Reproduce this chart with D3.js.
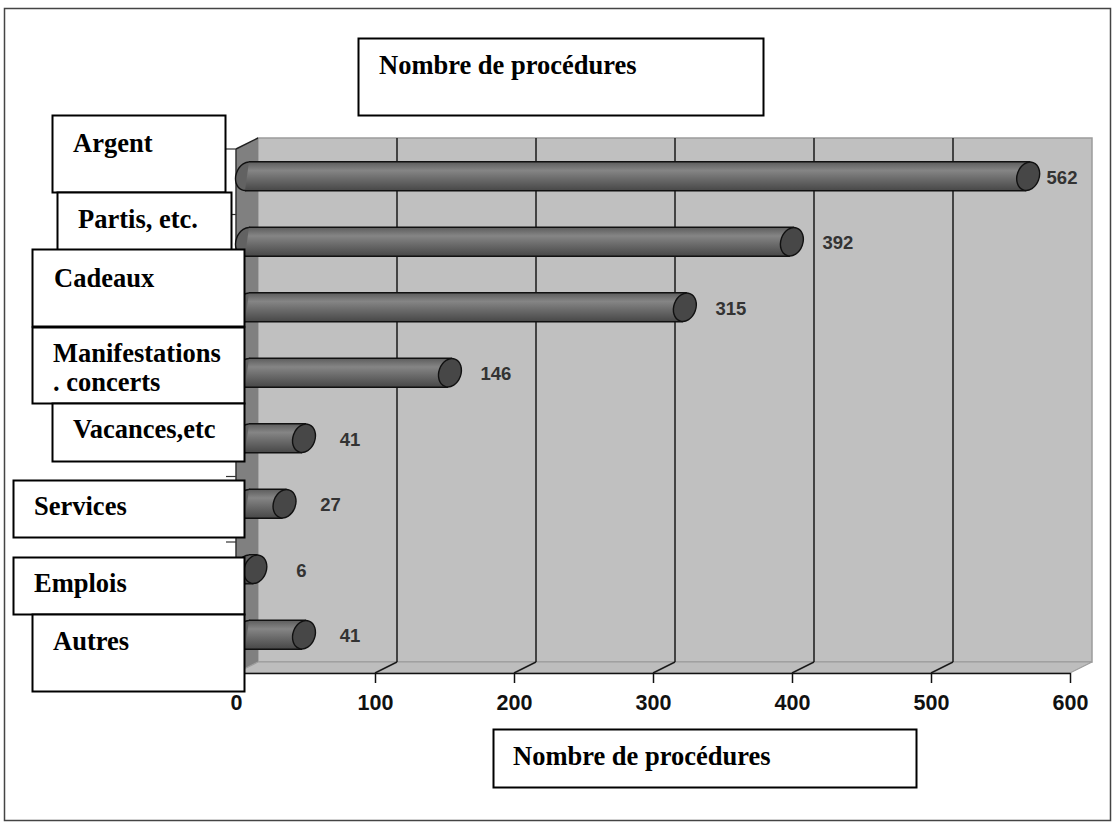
<!DOCTYPE html>
<html>
<head>
<meta charset="utf-8">
<script src="https://cdn.jsdelivr.net/npm/d3@7/dist/d3.min.js"></script>
<style>
  html, body { margin: 0; padding: 0; background: #fff; }
  svg { display: block; }
</style>
</head>
<body>
<svg id="chart" width="1118" height="828"></svg>
<script>
// Number of procedures by type of advantage
const categories = ["Argent", "Partis, etc.", "Cadeaux", "Manifestations, concerts",
                    "Vacances,etc", "Services", "Emplois", "Autres"];
const values = [562, 392, 315, 146, 41, 27, 6, 41];
const tickValues = [0, 100, 200, 300, 400, 500, 600];
const chartTitle = "Nombre de procédures";
const axisTitle = "Nombre de procédures";
// Text lines shown inside each category box
const categoryLines = [["Argent"], ["Partis, etc."], ["Cadeaux"], ["Manifestations", ". concerts"],
                       ["Vacances,etc"], ["Services"], ["Emplois"], ["Autres"]];
// Category box layout: [x, y, width, height, text inset x, first baseline offset]
const boxLayout = [
  [52, 115, 173, 77, 21, 37],
  [57, 192, 174, 68, 21, 36],
  [32, 249, 212, 77, 22, 38],
  [32, 327, 212, 76, 21, 35],
  [52, 403, 192, 58, 21, 35],
  [13, 480, 231, 57, 21, 35],
  [13, 557, 231, 57, 21, 35],
  [32, 614, 212, 77, 21, 36]
];

const svg = d3.select("#chart");
const serif = "'Liberation Serif', 'Times New Roman', serif";
const sans = "'Liberation Sans', Arial, sans-serif";

// Front plane scales; the back wall is offset by the 3D depth
const x = d3.scaleLinear().domain([0, 600]).range([236, 1070]);
const y = d3.scaleBand().domain(categories).range([149, 673]);
const DX = 22, DY = -11;           // depth offset front -> back
const yTop = y.range()[0], yBottom = y.range()[1];

const defs = svg.append("defs");
const grad = defs.append("linearGradient").attr("id", "cyl")
  .attr("x1", 0).attr("y1", 0).attr("x2", 0).attr("y2", 1);
grad.append("stop").attr("offset", "0%").attr("stop-color", "#5c5c5c");
grad.append("stop").attr("offset", "30%").attr("stop-color", "#858585");
grad.append("stop").attr("offset", "60%").attr("stop-color", "#6a6a6a");
grad.append("stop").attr("offset", "100%").attr("stop-color", "#474747");

// Outer frame
svg.append("rect").attr("x", 4.5).attr("y", 8.5).attr("width", 1106).attr("height", 812)
  .attr("fill", "#fff").attr("stroke", "#444").attr("stroke-width", 1.5);

const line = d3.line();

// Back wall
const x0 = x(0), x1 = x(600);
svg.append("path")
  .attr("d", line([[x0 + DX, yTop + DY], [x1 + DX, yTop + DY], [x1 + DX, yBottom + DY], [x0 + DX, yBottom + DY]]) + "Z")
  .attr("fill", "#c0c0c0").attr("stroke", "#9c9c9c").attr("stroke-width", 1.5);

// Left wall
svg.append("path")
  .attr("d", line([[x0, yTop], [x0 + DX, yTop + DY], [x0 + DX, yBottom + DY], [x0, yBottom]]) + "Z")
  .attr("fill", "#808080").attr("stroke", "none");
svg.append("path").attr("d", line([[x0, yTop], [x0 + DX, yTop + DY]]))
  .attr("stroke", "#222").attr("stroke-width", 1.5);

// Floor
svg.append("path")
  .attr("d", line([[x0, yBottom], [x0 + DX, yBottom + DY], [x1 + DX, yBottom + DY], [x1, yBottom]]) + "Z")
  .attr("fill", "#bdbdbd").attr("stroke", "#9c9c9c").attr("stroke-width", 1.2);

// Gridlines on back wall and depth marks on the floor
const inner = tickValues.filter(t => t > 0 && t < 600);
svg.append("g").selectAll("line").data(inner).join("line")
  .attr("x1", d => x(d) + DX).attr("x2", d => x(d) + DX)
  .attr("y1", yTop + DY).attr("y2", yBottom + DY)
  .attr("stroke", "#1a1a1a").attr("stroke-width", 1.5);
svg.append("g").selectAll("line").data(inner).join("line")
  .attr("x1", d => x(d)).attr("y1", yBottom)
  .attr("x2", d => x(d) + DX).attr("y2", yBottom + DY)
  .attr("stroke", "#1a1a1a").attr("stroke-width", 1.5);

// Category axis line and ticks
svg.append("line").attr("x1", x0).attr("x2", x0).attr("y1", yTop).attr("y2", yBottom)
  .attr("stroke", "#333").attr("stroke-width", 1.5);
const bounds = categories.map(c => y(c)).concat([yBottom]);
svg.append("g").selectAll("line").data(bounds).join("line")
  .attr("x1", x0 - 10).attr("x2", x0).attr("y1", d => d).attr("y2", d => d)
  .attr("stroke", "#333").attr("stroke-width", 1.2);

// Cylinders, placed at mid depth
const r = y.bandwidth() * 0.222;
const capRx = 11, capRot = 20;
const rad = capRot * Math.PI / 180;
const tOff = (r * r - capRx * capRx) * Math.sin(rad) * Math.cos(rad) / r;
const barData = values.map((v, i) => ({v, c: categories[i]}));
const bars = svg.append("g").selectAll("g").data(barData).join("g");
bars.each(function(d) {
  const g = d3.select(this);
  const cy = y(d.c) + y.bandwidth() / 2 + DY / 2;
  const xs = x(0) + DX / 2;
  const xe = x(d.v) + DX / 2;
  // left rounded end (half of the cap ellipse)
  g.append("ellipse").attr("cx", xs).attr("cy", cy).attr("rx", capRx).attr("ry", r)
    .attr("transform", `rotate(${capRot},${xs},${cy})`)
    .attr("fill", "#626262").attr("stroke", "#111").attr("stroke-width", 1.4);
  // body
  g.append("path")
    .attr("d", `M${xs + tOff},${cy - r} L${xe + tOff},${cy - r} L${xe - tOff},${cy + r} L${xs - tOff},${cy + r} Z`)
    .attr("fill", "url(#cyl)").attr("stroke", "none");
  g.append("line").attr("x1", xs + tOff).attr("x2", xe + tOff).attr("y1", cy - r).attr("y2", cy - r)
    .attr("stroke", "#111").attr("stroke-width", 1.4);
  g.append("line").attr("x1", xs - tOff).attr("x2", xe - tOff).attr("y1", cy + r).attr("y2", cy + r)
    .attr("stroke", "#111").attr("stroke-width", 1.4);
  // end cap
  g.append("ellipse").attr("cx", xe).attr("cy", cy).attr("rx", capRx).attr("ry", r)
    .attr("transform", `rotate(${capRot},${xe},${cy})`)
    .attr("fill", "#474747").attr("stroke", "#111").attr("stroke-width", 1.4);
});

// Value labels
const labelMaxX = x(600) + DX - 30;
svg.append("g").selectAll("text").data(barData).join("text")
  .attr("x", d => Math.min(x(d.v) + 57, labelMaxX))
  .attr("y", d => y(d.c) + y.bandwidth() / 2 + DY / 2 + 1)
  .attr("dy", "0.36em")
  .attr("text-anchor", "middle")
  .attr("font-family", sans).attr("font-weight", "bold").attr("font-size", 18.5)
  .attr("fill", "#333")
  .text(d => d.v);

// Value axis
const xAxis = d3.axisBottom(x).tickValues(tickValues).tickSize(10).tickSizeOuter(0).tickPadding(12);
const ax = svg.append("g").attr("transform", `translate(0,${yBottom})`).call(xAxis);
ax.select(".domain").attr("stroke", "#111").attr("stroke-width", 1.6);
ax.selectAll(".tick line").attr("stroke", "#111").attr("stroke-width", 1.5);
ax.selectAll(".tick text").attr("font-family", sans).attr("font-weight", "bold")
  .attr("font-size", 21.5).attr("fill", "#111");

// Category label boxes
boxLayout.forEach((b, i) => {
  const g = svg.append("g");
  g.append("rect").attr("x", b[0] + 0.5).attr("y", b[1] + 0.5).attr("width", b[2]).attr("height", b[3])
    .attr("fill", "#fff").attr("stroke", "#000").attr("stroke-width", 2);
  categoryLines[i].forEach((t, k) => {
    g.append("text").attr("x", b[0] + b[4]).attr("y", b[1] + b[5] + k * 29)
      .attr("font-family", serif).attr("font-weight", "bold").attr("font-size", 26.5)
      .attr("fill", "#000").text(t);
  });
});

// Title box
svg.append("rect").attr("x", 358.5).attr("y", 38.5).attr("width", 405).attr("height", 77)
  .attr("fill", "#fff").attr("stroke", "#000").attr("stroke-width", 2);
svg.append("text").attr("x", 379).attr("y", 74)
  .attr("font-family", serif).attr("font-weight", "bold").attr("font-size", 26.5)
  .attr("fill", "#000").text(chartTitle);

// Axis title box
svg.append("rect").attr("x", 493.5).attr("y", 729.5).attr("width", 423).attr("height", 58)
  .attr("fill", "#fff").attr("stroke", "#000").attr("stroke-width", 2);
svg.append("text").attr("x", 513).attr("y", 765)
  .attr("font-family", serif).attr("font-weight", "bold").attr("font-size", 26.5)
  .attr("fill", "#000").text(axisTitle);
</script>
</body>
</html>
